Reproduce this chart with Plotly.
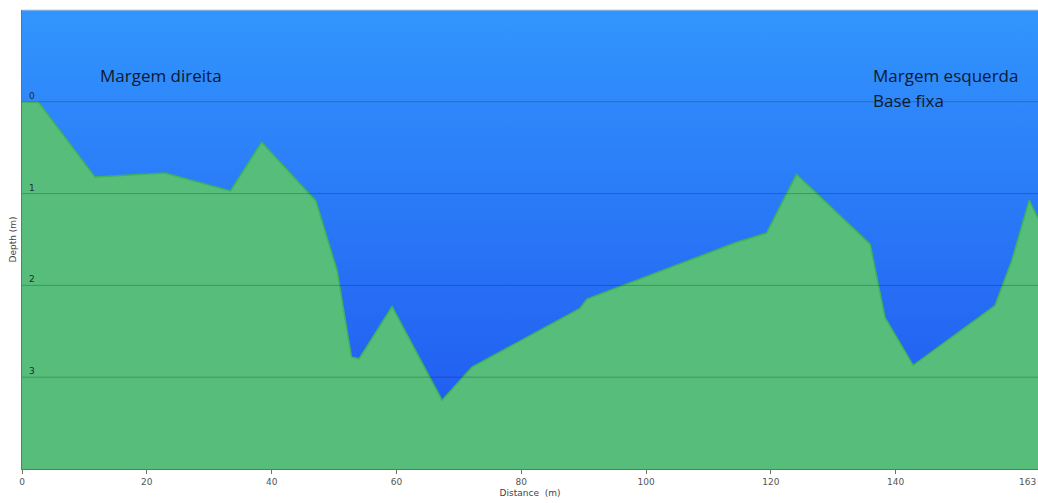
import base64
import plotly.graph_objects as go

# Profile data: distance (m) and depth (m)
distance = [0.0, 2.6, 11.7, 22.9, 33.4, 38.4, 47.1, 50.5, 52.8, 54.0, 59.3,
            67.3, 72.1, 89.4, 90.5, 114.5, 119.3, 124.1, 135.9, 138.3, 142.8,
            155.9, 158.6, 161.4, 162.8]
depth = [0.0, 0.0, 0.82, 0.775, 0.97, 0.44, 1.08, 1.84, 2.78, 2.80, 2.23,
         3.25, 2.89, 2.25, 2.15, 1.53, 1.43, 0.79, 1.55, 2.35, 2.87,
         2.22, 1.73, 1.07, 1.27]

x_ticks = [0, 20, 40, 60, 80, 100, 120, 140]
x_end_label = "163"
y_ticks = [0, 1, 2, 3]
x_range = [0, 162.8]
y_range = [4.0, -1.0]
bottom_depth = y_range[0]

svg = (
    '<svg xmlns="http://www.w3.org/2000/svg" width="100" height="100" preserveAspectRatio="none">'
    '<defs><linearGradient id="g" x1="0" y1="0" x2="0" y2="1">'
    '<stop offset="0" stop-color="#3295fd"/>'
    '<stop offset="1" stop-color="#1f55ef"/>'
    '</linearGradient></defs>'
    '<rect width="100" height="100" fill="url(#g)"/></svg>'
)
bg_uri = "data:image/svg+xml;base64," + base64.b64encode(svg.encode()).decode()

fig = go.Figure()
fig.add_trace(go.Scatter(x=distance, y=[bottom_depth] * len(distance), mode="lines",
                         line=dict(width=0), hoverinfo="skip", showlegend=False))
fig.add_trace(go.Scatter(x=distance, y=depth, mode="lines", fill="tonexty",
                         fillcolor="#57bd7a", line=dict(color="#3cb35c", width=1.5),
                         showlegend=False))

shapes = []
for v in y_ticks:
    shapes.append(dict(type="line", xref="paper", x0=0, x1=1, yref="y", y0=v, y1=v,
                       line=dict(color="rgba(0,0,0,0.22)", width=1), layer="above"))
shapes.append(dict(type="line", xref="paper", x0=0, x1=1, yref="paper", y0=1, y1=1,
                   line=dict(color="#c9ccd6", width=1), layer="above"))

annotations = []
for v in y_ticks:
    annotations.append(dict(x=0, xref="paper", xshift=5, xanchor="left",
                            y=v, yref="y", yanchor="bottom", yshift=-1,
                            text=str(v), showarrow=False,
                            font=dict(family="DejaVu Sans", size=9, color="#1e2a3a")))
annotations.append(dict(x=1, xref="paper", xanchor="right", y=0, yref="paper",
                        yanchor="top", yshift=-6, text=x_end_label, showarrow=False,
                        font=dict(family="DejaVu Sans", size=9, color="#555555")))
label_font = dict(family="Open Sans", size=17, color="#0d1a2e")
annotations.append(dict(x=0.075, xref="paper", xanchor="left", y=0.857, yref="paper",
                        yanchor="middle", text="Margem direita", showarrow=False,
                        font=label_font))
annotations.append(dict(x=0.836, xref="paper", xanchor="left", y=0.857, yref="paper",
                        yanchor="middle", text="Margem esquerda", showarrow=False,
                        font=label_font))
annotations.append(dict(x=0.836, xref="paper", xanchor="left", y=0.802, yref="paper",
                        yanchor="middle", text="Base fixa", showarrow=False,
                        font=label_font))

fig.update_layout(
    width=1038, height=503,
    margin=dict(l=22, r=0, t=10, b=34),
    paper_bgcolor="white", plot_bgcolor="#2a78f8",
    images=[dict(source=bg_uri, xref="paper", yref="paper", x=0, y=1, sizex=1, sizey=1,
                 xanchor="left", yanchor="top", sizing="stretch", layer="below")],
    shapes=shapes, annotations=annotations,
    xaxis=dict(range=x_range, tickvals=x_ticks, showgrid=False, zeroline=False,
               showline=True, linecolor="#707070", linewidth=1,
               ticks="outside", ticklen=4, tickcolor="#707070",
               tickfont=dict(family="DejaVu Sans", size=9, color="#555555"),
               title=dict(text="Distance  (m)", standoff=3,
                          font=dict(family="DejaVu Sans", size=9, color="#444444"))),
    yaxis=dict(range=y_range, showgrid=False, zeroline=False, showticklabels=False,
               showline=True, linecolor="#707070", linewidth=1, ticks="",
               title=dict(text="Depth (m)", standoff=2,
                          font=dict(family="DejaVu Sans", size=9, color="#444444"))),
)

fig.write_html("out.html", config={"displayModeBar": False},
               post_script="document.body.style.margin='0px';document.body.style.overflow='hidden';")
